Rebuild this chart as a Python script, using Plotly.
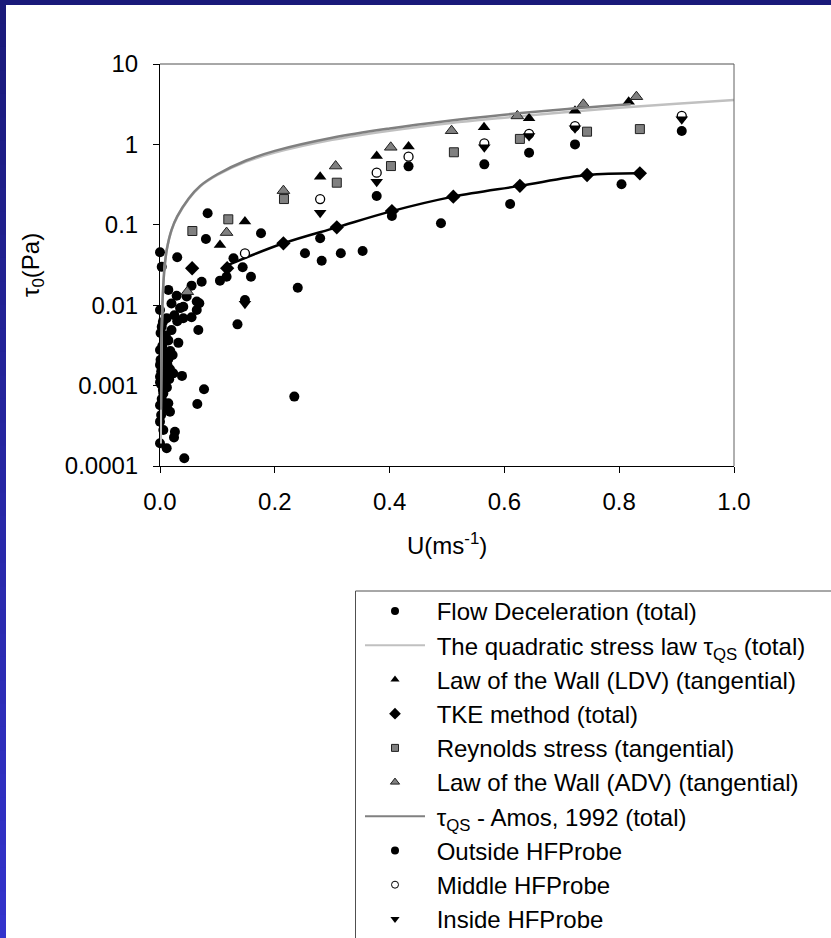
import plotly.graph_objects as go

# ---------------- data ----------------
# Flow deceleration (total)
fd_u = [0.4895, 0.61, 0.804, 0.083, 0.080, 0.030, 0.0, 0.003, 0.176, 0.128, 0.144, 0.1585,
        0.1045, 0.116, 0.0726, 0.055, 0.2526, 0.2817, 0.315, 0.353, 0.24, 0.404, 0.135, 0.234,
        0.0767, 0.065, 0.0383, 0.026, 0.0244, 0.0423, 0.0116, 0.0, 0.0465, 0.064, 0.0685, 0.064,
        0.055, 0.0406, 0.0668, 0.0145, 0.029, 0.0406,
        0.0, 0.0116, 0.003, 0.02, 0.0145, 0.032, 0.0, 0.0087, 0.0145, 0.0, 0.0174, 0.023, 0.0,
        0.0087, 0.002, 0.0058, 0.0145, 0.0, 0.0174, 0.0, 0.0058, 0.001, 0.005, 0.01, 0.004,
        0.007, 0.002, 0.01, 0.004, 0.012, 0.003, 0.009, 0.002, 0.006, 0.025, 0.03, 0.02, 0.035,
        0.018, 0.008, 0.001, 0.013, 0.022, 0.005, 0.0, 0.016]
fd_tau = [0.1045, 0.181, 0.319, 0.139, 0.0666, 0.0394, 0.0455, 0.030, 0.0784, 0.0383, 0.0296, 0.0226,
          0.0202, 0.0226, 0.0196, 0.0175, 0.0442, 0.0358, 0.0442, 0.0472, 0.0165, 0.1286, 0.00578, 0.00073,
          0.0009, 0.00059, 0.00132, 0.000267, 0.000227, 0.000125, 0.000166, 0.000192, 0.0128, 0.0111, 0.0106, 0.0087,
          0.00707, 0.00687, 0.00492, 0.0155, 0.0131, 0.00958,
          0.0087, 0.0069, 0.0054, 0.0049, 0.00365, 0.0034, 0.00277, 0.00253, 0.00213, 0.00181, 0.0016, 0.00142, 0.00129,
          0.00119, 0.00103, 0.0008, 0.000603, 0.00057, 0.000473, 0.000356, 0.00028, 0.0045, 0.0062, 0.0042, 0.0031,
          0.0022, 0.0015, 0.0014, 0.0011, 0.00095, 0.00068, 0.00052, 0.00043, 0.0013, 0.0075, 0.0063, 0.0105, 0.0092,
          0.0027, 0.0037, 0.0021, 0.0018, 0.0024, 0.00088, 0.0011, 0.0012]

# The quadratic stress law tau_QS (total)
qs_u = [0.0012, 0.0016, 0.002, 0.003, 0.005, 0.008, 0.012, 0.02, 0.03, 0.05, 0.07, 0.1, 0.15, 0.2,
        0.3, 0.4, 0.5, 0.6, 0.7, 0.8, 0.9, 1.0]
qs_tau = [0.00019, 0.0005, 0.0011, 0.0045, 0.014, 0.03, 0.05, 0.085, 0.125, 0.21, 0.3, 0.416, 0.61, 0.79,
          1.14, 1.48, 1.82, 2.15, 2.5, 2.85, 3.2, 3.57]

# tau_QS - Amos, 1992 (total)
am_u = [0.0016, 0.002, 0.003, 0.005, 0.008, 0.012, 0.02, 0.03, 0.05, 0.07, 0.1, 0.15, 0.2,
        0.3, 0.4, 0.5, 0.6, 0.7, 0.82]
am_tau = [0.0005, 0.0011, 0.0045, 0.014, 0.03, 0.05, 0.086, 0.127, 0.213, 0.305, 0.425, 0.63, 0.83,
          1.21, 1.58, 1.96, 2.34, 2.72, 3.15]

# Law of the Wall (LDV) (tangential)
ldv_u = [0.1045, 0.148, 0.279, 0.3775, 0.433, 0.5645, 0.643, 0.723, 0.8165]
ldv_tau = [0.0561, 0.11, 0.396, 0.718, 0.94, 1.63, 2.11, 2.62, 3.40]

# TKE method (total)
tke_u = [0.056, 0.117, 0.215, 0.308, 0.404, 0.511, 0.627, 0.744, 0.836]
tke_tau = [0.0288, 0.0288, 0.0589, 0.093, 0.148, 0.224, 0.305, 0.416, 0.437]
# line through the TKE estimates
tkel_u = [0.12, 0.215, 0.308, 0.404, 0.511, 0.627, 0.744, 0.836]
tkel_tau = [0.032, 0.0589, 0.093, 0.148, 0.224, 0.305, 0.416, 0.437]

# Reynolds stress (tangential)
rs_u = [0.0564, 0.119, 0.216, 0.308, 0.4024, 0.512, 0.627, 0.744, 0.836]
rs_tau = [0.0837, 0.117, 0.209, 0.334, 0.538, 0.798, 1.17, 1.44, 1.55]

# Law of the Wall (ADV) (tangential)
adv_u = [0.0476, 0.116, 0.215, 0.306, 0.402, 0.508, 0.6225, 0.7375, 0.83]
adv_tau = [0.0147, 0.08, 0.266, 0.538, 0.92, 1.48, 2.26, 3.15, 3.92]

# Hot-film probes
out_u = [0.148, 0.279, 0.3775, 0.433, 0.565, 0.643, 0.723, 0.909]
out_tau = [0.0116, 0.068, 0.228, 0.533, 0.565, 0.789, 1.0, 1.47]
mid_u = [0.148, 0.279, 0.3775, 0.433, 0.565, 0.643, 0.723, 0.909]
mid_tau = [0.0442, 0.209, 0.445, 0.703, 1.03, 1.35, 1.69, 2.26]
ins_u = [0.148, 0.279, 0.3775, 0.565, 0.643, 0.723, 0.909]
ins_tau = [0.0104, 0.1415, 0.344, 0.92, 1.27, 1.585, 2.05]

y_tickvals = [0.0001, 0.001, 0.01, 0.1, 1, 10]
y_ticktext = ["0.0001", "0.001", "0.01", "0.1", "1", "10"]
x_tickvals = [0.0, 0.2, 0.4, 0.6, 0.8, 1.0]
x_ticktext = ["0.0", "0.2", "0.4", "0.6", "0.8", "1.0"]

x_title = "U(ms<sup>-1</sup>)"
y_title = "τ<sub>0</sub>(Pa)"

legend_names = [
    "Flow Deceleration (total)",
    "The quadratic stress law τ<sub>QS</sub> (total)",
    "Law of the Wall (LDV) (tangential)",
    "TKE method (total)",
    "Reynolds stress (tangential)",
    "Law of the Wall (ADV) (tangential)",
    "τ<sub>QS</sub> - Amos, 1992 (total)",
    "Outside HFProbe",
    "Middle HFProbe",
    "Inside HFProbe",
]

# ---------------- figure ----------------
FONT = "Liberation Sans, Arial, sans-serif"
GRAY = "#808080"
LIGHT = "#c0c0c0"

fig = go.Figure()

def pts(x, y, symbol, size, color, lw=0, lc="black"):
    fig.add_trace(go.Scatter(x=x, y=y, mode="markers", showlegend=False, cliponaxis=False,
                             marker=dict(symbol=symbol, size=size, color=color,
                                         line=dict(width=lw, color=lc)),
                             hoverinfo="x+y"))

pts(fd_u, fd_tau, "circle", 10, "black")
fig.add_trace(go.Scatter(x=qs_u, y=qs_tau, mode="lines", showlegend=False,
                         line=dict(color=LIGHT, width=2.5, shape="spline")))
pts(ldv_u, ldv_tau, "triangle-up", 11, "black")
pts(tke_u, tke_tau, "diamond", 11, "black")
fig.add_trace(go.Scatter(x=tkel_u, y=tkel_tau, mode="lines", showlegend=False,
                         line=dict(color="black", width=2.5, shape="spline")))
pts(rs_u, rs_tau, "square", 9, GRAY, 1, "#202020")
pts(adv_u, adv_tau, "triangle-up", 11, GRAY, 1, "#202020")
fig.add_trace(go.Scatter(x=am_u, y=am_tau, mode="lines", showlegend=False,
                         line=dict(color=GRAY, width=2.5, shape="spline")))
pts(out_u, out_tau, "circle", 10, "black")
pts(mid_u, mid_tau, "circle", 9, "white", 1.3, "black")
pts(ins_u, ins_tau, "triangle-down", 11, "black")

# legend entries
leg_specs = [
    dict(mode="markers", marker=dict(symbol="circle", size=8, color="black")),
    dict(mode="lines", line=dict(color=LIGHT, width=2)),
    dict(mode="markers", marker=dict(symbol="triangle-up", size=8, color="black")),
    dict(mode="markers", marker=dict(symbol="diamond", size=9, color="black")),
    dict(mode="markers", marker=dict(symbol="square", size=7, color=GRAY, line=dict(width=1, color="#202020"))),
    dict(mode="markers", marker=dict(symbol="triangle-up", size=8, color=GRAY, line=dict(width=1, color="#202020"))),
    dict(mode="lines", line=dict(color=GRAY, width=2)),
    dict(mode="markers", marker=dict(symbol="circle", size=8, color="black")),
    dict(mode="markers", marker=dict(symbol="circle", size=7, color="white", line=dict(width=1, color="black"))),
    dict(mode="markers", marker=dict(symbol="triangle-down", size=8, color="black")),
]
for name, spec in zip(legend_names, leg_specs):
    fig.add_trace(go.Scatter(x=[None], y=[None], name="\u00a0" + name, showlegend=True, **spec))

W, H = 831, 938
L, R, T, B = 160, 97, 64, 472
pw, ph = W - L - R, H - T - B

def px(xp):
    return (xp - L) / pw

def py(yp):
    return (H - B - yp) / ph

shapes = []
# blue frame (top and left bands with a vertical gradient)
shapes.append(dict(type="rect", xref="paper", yref="paper", x0=px(-5), x1=px(W + 5), y0=py(5), y1=py(-5),
                   fillcolor="rgb(26,26,122)", line=dict(width=0), layer="below"))
nseg = 40
for i in range(nseg):
    t = i / (nseg - 1)
    c = (int(26 + t * 25), int(26 + t * 25), int(122 + t * 82))
    y0p = i * H / nseg
    y1p = (i + 1) * H / nseg + 1
    shapes.append(dict(type="rect", xref="paper", yref="paper", x0=px(-5), x1=px(6),
                       y0=py(y1p), y1=py(y0p), fillcolor="rgb(%d,%d,%d)" % c,
                       line=dict(width=0), layer="below"))
# top and right plot border
shapes.append(dict(type="line", xref="paper", yref="paper", x0=0, x1=1, y0=1, y1=1,
                   line=dict(color="#505050", width=1)))
shapes.append(dict(type="line", xref="paper", yref="paper", x0=1, x1=1, y0=0, y1=1,
                   line=dict(color="#606060", width=1)))
# legend frame (runs off the right and bottom edges)
shapes.append(dict(type="rect", xref="paper", yref="paper", x0=px(355.5), x1=px(W + 20),
                   y0=py(H + 20), y1=py(591), line=dict(color="#505050", width=1),
                   fillcolor="rgba(0,0,0,0)"))

annotations = [
    dict(text=x_title, xref="paper", yref="paper", x=px(447), y=py(544),
         xanchor="center", yanchor="middle", showarrow=False, font=dict(size=24)),
    dict(text=y_title, xref="paper", yref="paper", x=px(32), y=py(265), textangle=-90,
         xanchor="center", yanchor="middle", showarrow=False, font=dict(size=24)),
]

fig.update_layout(
    width=W, height=H,
    margin=dict(l=L, r=R, t=T, b=B, pad=0, autoexpand=False),
    paper_bgcolor="white", plot_bgcolor="white",
    font=dict(family=FONT, size=24, color="black"),
    showlegend=True,
    legend=dict(xref="container", yref="container", x=360 / W, y=(H - 589) / H,
                xanchor="left", yanchor="top",
                font=dict(family=FONT, size=24, color="black"),
                bgcolor="rgba(0,0,0,0)", borderwidth=0, itemwidth=60,
                tracegroupgap=0),
    shapes=shapes,
    annotations=annotations,
    xaxis=dict(range=[0, 1], tickvals=x_tickvals, ticktext=x_ticktext, automargin=False,
               showgrid=False, zeroline=False, showline=True, linecolor="black", linewidth=1,
               ticks="outside", ticklen=6, tickcolor="black", tickwidth=1,
               tickfont=dict(size=24), ticklabelstandoff=8),
    yaxis=dict(type="log", range=[-4, 1], tickvals=y_tickvals, ticktext=y_ticktext, automargin=False,
               showgrid=False, zeroline=False, showline=True, linecolor="black", linewidth=1,
               ticks="outside", ticklen=6, tickcolor="black", tickwidth=1,
               tickfont=dict(size=24), ticklabelstandoff=10),
)

fig.write_html("out.html")
